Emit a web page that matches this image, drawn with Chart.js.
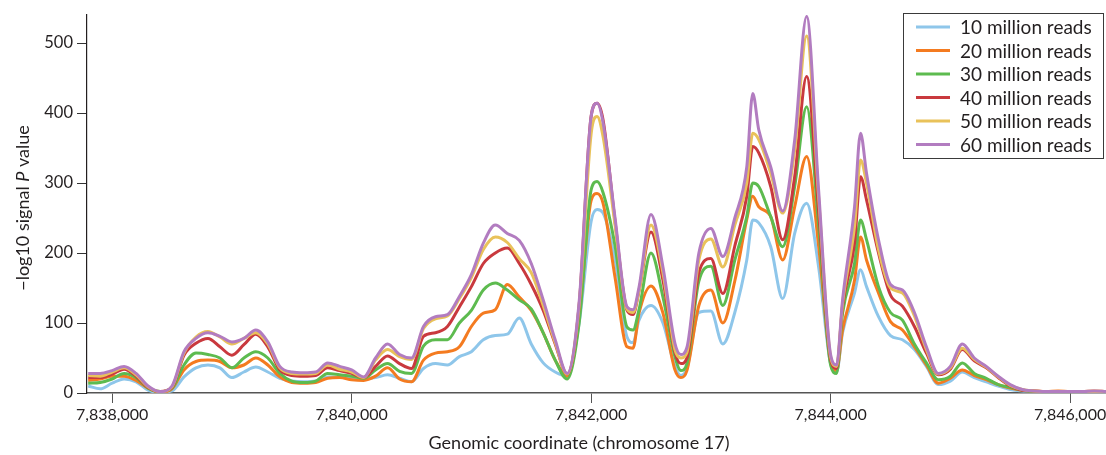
<!DOCTYPE html>
<html>
<head>
<meta charset="utf-8">
<script src="https://cdn.jsdelivr.net/npm/chart.js@4.4.1/dist/chart.umd.min.js"></script>
<style>
  html, body { margin: 0; padding: 0; background: #fff; }
  #wrap { width: 1106px; height: 455px; }
</style>
</head>
<body>
<div id="wrap"><canvas id="chart"></canvas></div>
<script>
// genomic coordinates (chromosome 17)
var positions = [
    7837800, 7837900, 7838000, 7838100, 7838200, 7838300, 7838400, 7838500, 7838600, 7838700,
    7838800, 7838900, 7839000, 7839100, 7839200, 7839300, 7839400, 7839500, 7839600, 7839700,
    7839800, 7839900, 7840000, 7840100, 7840200, 7840300, 7840400, 7840500, 7840600, 7840700,
    7840800, 7840900, 7841000, 7841100, 7841200, 7841300, 7841400, 7841500, 7841600, 7841700,
    7841800, 7841900, 7842000, 7842050, 7842100, 7842200, 7842300, 7842350, 7842400, 7842500,
    7842600, 7842700, 7842750, 7842800, 7842900, 7843000, 7843100, 7843200, 7843300, 7843350,
    7843400, 7843500, 7843600, 7843700, 7843800, 7843900, 7844000, 7844050, 7844100, 7844200,
    7844250, 7844300, 7844400, 7844500, 7844600, 7844700, 7844800, 7844900, 7845000, 7845100,
    7845200, 7845300, 7845400, 7845500, 7845600, 7845700, 7845800, 7845900, 7846000, 7846100,
    7846200, 7846300
];

var reads10 = [
    10, 6, 14, 20, 16, 4, 1, 3, 23, 36,
    40, 36, 22, 30, 37, 30, 21, 17, 16, 17,
    23, 22, 22, 20, 22, 26, 21, 16, 35, 42,
    40, 52, 59, 76, 82, 84, 107, 70, 43, 30,
    24, 100, 245, 262, 257, 190, 80, 72, 104, 125,
    100, 38, 25, 35, 115, 117, 70, 115, 190, 247,
    243, 209, 135, 228, 271, 180, 42, 30, 86, 143,
    176, 152, 109, 82, 76, 62, 38, 12, 17, 30,
    22, 16, 10, 5, 3, 2, 2, 2, 2, 2,
    2, 2
];
var reads20 = [
    18, 20, 24, 24, 18, 7, 1, 6, 33, 45,
    47, 45, 36, 40, 50, 40, 23, 15, 14, 15,
    21, 22, 19, 18, 24, 36, 20, 16, 47, 57,
    59, 66, 95, 114, 119, 155, 137, 118, 86, 47,
    24, 108, 275, 285, 271, 165, 66, 64, 114, 153,
    114, 33, 22, 32, 125, 147, 100, 160, 248, 281,
    266, 252, 190, 266, 338, 210, 45, 32, 90, 161,
    223, 190, 143, 102, 90, 66, 40, 14, 21, 33,
    25, 19, 12, 7, 4, 3, 2, 3, 2, 2,
    3, 2
];
var reads30 = [
    14, 15, 20, 28, 22, 7, 2, 7, 40, 57,
    55, 50, 36, 50, 59, 50, 28, 17, 15, 17,
    28, 26, 24, 21, 33, 42, 31, 28, 67, 76,
    76, 100, 118, 147, 157, 147, 133, 120, 86, 47,
    20, 100, 290, 302, 286, 210, 94, 90, 119, 200,
    137, 52, 32, 42, 160, 181, 125, 190, 252, 300,
    295, 252, 209, 295, 409, 240, 40, 28, 114, 185,
    247, 219, 152, 115, 104, 70, 43, 19, 24, 43,
    28, 21, 12, 8, 4, 2, 2, 2, 2, 2,
    2, 2
];
var reads40 = [
    22, 22, 27, 34, 24, 8, 2, 8, 54, 71,
    78, 66, 54, 69, 84, 66, 33, 25, 24, 25,
    36, 32, 28, 22, 38, 53, 42, 35, 81, 86,
    95, 123, 152, 185, 200, 207, 185, 155, 118, 70,
    27, 125, 395, 414, 390, 245, 118, 112, 146, 230,
    161, 58, 42, 50, 172, 192, 142, 210, 281, 352,
    343, 295, 219, 309, 452, 260, 48, 35, 124, 214,
    309, 276, 200, 140, 124, 95, 57, 26, 34, 62,
    46, 36, 22, 10, 4, 3, 2, 2, 2, 2,
    2, 2
];
var reads50 = [
    25, 24, 30, 36, 26, 9, 2, 9, 57, 80,
    88, 80, 70, 78, 86, 70, 36, 28, 27, 28,
    40, 34, 30, 22, 47, 62, 52, 48, 92, 106,
    110, 135, 165, 205, 223, 215, 192, 172, 125, 72,
    27, 125, 370, 395, 366, 240, 120, 115, 146, 240,
    172, 62, 50, 58, 190, 220, 180, 240, 300, 371,
    362, 314, 257, 347, 510, 280, 52, 38, 128, 238,
    333, 300, 205, 150, 143, 110, 62, 27, 36, 64,
    48, 37, 23, 11, 5, 3, 2, 2, 2, 2,
    2, 2
];
var reads60 = [
    28, 28, 32, 38, 28, 10, 2, 10, 59, 78,
    86, 81, 73, 78, 90, 73, 38, 30, 29, 30,
    43, 38, 33, 23, 50, 70, 55, 50, 95, 109,
    112, 138, 169, 214, 240, 228, 218, 185, 133, 76,
    28, 130, 395, 414, 386, 250, 123, 119, 151, 255,
    180, 71, 55, 65, 200, 235, 195, 250, 323, 428,
    376, 323, 260, 361, 538, 290, 55, 40, 133, 266,
    371, 314, 219, 155, 147, 115, 66, 28, 38, 70,
    50, 38, 24, 12, 5, 3, 2, 2, 2, 2,
    3, 2
];

var seriesNames = ['10 million reads', '20 million reads', '30 million reads',
                   '40 million reads', '50 million reads', '60 million reads'];
var seriesColors = ['#8ec6ea', '#f47b20', '#5dbb4f', '#c9393e', '#e9c25a', '#b27cc0'];
var xTicks = [7838000, 7840000, 7842000, 7844000, 7846000];
var yTicks = [0, 100, 200, 300, 400, 500];

var FONT = 'Lato, "Open Sans", sans-serif';
var TEXT = '#231f20';

function toPoints(vals) {
    return positions.map(function (x, i) { return { x: x, y: vals[i] }; });
}

var allSeries = [reads10, reads20, reads30, reads40, reads50, reads60];
var datasets = allSeries.map(function (vals, i) {
    return {
        label: seriesNames[i],
        data: toPoints(vals),
        borderColor: seriesColors[i],
        backgroundColor: seriesColors[i],
        borderWidth: 3,
        pointRadius: 0,
        cubicInterpolationMode: 'monotone',
        fill: false,
        order: 6 - i
    };
});

// axis titles and the boxed legend
var extras = {
    id: 'extras',
    afterDraw: function (chart) {
        var ctx = chart.ctx;
        ctx.save();
        ctx.fillStyle = TEXT;
        ctx.textBaseline = 'middle';

        // x title
        ctx.font = '18px ' + FONT;
        ctx.textAlign = 'center';
        ctx.fillText('Genomic coordinate (chromosome 17)', 579, 443);

        // y title, italic P
        var parts = [['\u2212log10 signal ', '18px ' + FONT],
                     ['P', 'italic 18px ' + FONT],
                     [' value', '18px ' + FONT]];
        var total = 0;
        parts.forEach(function (p) { ctx.font = p[1]; total += ctx.measureText(p[0]).width; });
        ctx.translate(23, 208);
        ctx.rotate(-Math.PI / 2);
        ctx.textAlign = 'left';
        var cx = -total / 2;
        parts.forEach(function (p) {
            ctx.font = p[1];
            ctx.fillText(p[0], cx, 0);
            cx += ctx.measureText(p[0]).width;
        });
        ctx.setTransform(1, 0, 0, 1, 0, 0);

        // legend
        ctx.strokeStyle = '#3a3a3a';
        ctx.lineWidth = 1;
        ctx.strokeRect(903.5, 13.5, 200, 145);
        ctx.font = '19px ' + FONT;
        ctx.textAlign = 'left';
        seriesNames.forEach(function (name, i) {
            var y = 27 + i * 23.5;
            ctx.strokeStyle = seriesColors[i];
            ctx.lineWidth = 3;
            ctx.beginPath();
            ctx.moveTo(916, y);
            ctx.lineTo(950, y);
            ctx.stroke();
            ctx.fillStyle = TEXT;
            ctx.fillText(name, 960, y + 1);
        });
        ctx.restore();
    }
};

var ctx = document.getElementById('chart').getContext('2d');
var myChart = new Chart(ctx, {
    type: 'line',
    data: { datasets: datasets },
    options: {
        responsive: true,
        maintainAspectRatio: false,
        animation: false,
        layout: {
            autoPadding: false,
            padding: { top: 15, right: 0, left: 0, bottom: 0 }
        },
        plugins: {
            legend: { display: false },
            tooltip: { enabled: false }
        },
        scales: {
            x: {
                type: 'linear',
                min: 7837790,
                max: 7846300,
                afterBuildTicks: function (scale) {
                    scale.ticks = xTicks.map(function (v) { return { value: v }; });
                },
                afterFit: function (scale) {
                    scale.height = 62;
                    scale.paddingLeft = 0;
                    scale.paddingRight = 0;
                },
                ticks: {
                    autoSkip: false,
                    maxRotation: 0,
                    padding: 2,
                    color: TEXT,
                    font: { family: FONT, size: 16 },
                    callback: function (v) { return v.toLocaleString('en-US'); }
                },
                grid: {
                    drawOnChartArea: false,
                    drawTicks: true,
                    tickLength: 10,
                    color: '#555'
                },
                border: { display: true, color: '#555', width: 1.5 }
            },
            y: {
                min: 0,
                max: 540,
                afterBuildTicks: function (scale) {
                    scale.ticks = yTicks.map(function (v) { return { value: v }; });
                },
                afterFit: function (scale) {
                    scale.width = 87;
                    scale.paddingTop = 0;
                    scale.paddingBottom = 0;
                },
                ticks: {
                    padding: 4,
                    color: TEXT,
                    font: { family: FONT, size: 16.5 }
                },
                grid: {
                    drawOnChartArea: false,
                    drawTicks: true,
                    tickLength: 10,
                    color: '#333'
                },
                border: { display: true, color: '#231f20', width: 1.2 }
            }
        }
    },
    plugins: [extras]
});
</script>
</body>
</html>
